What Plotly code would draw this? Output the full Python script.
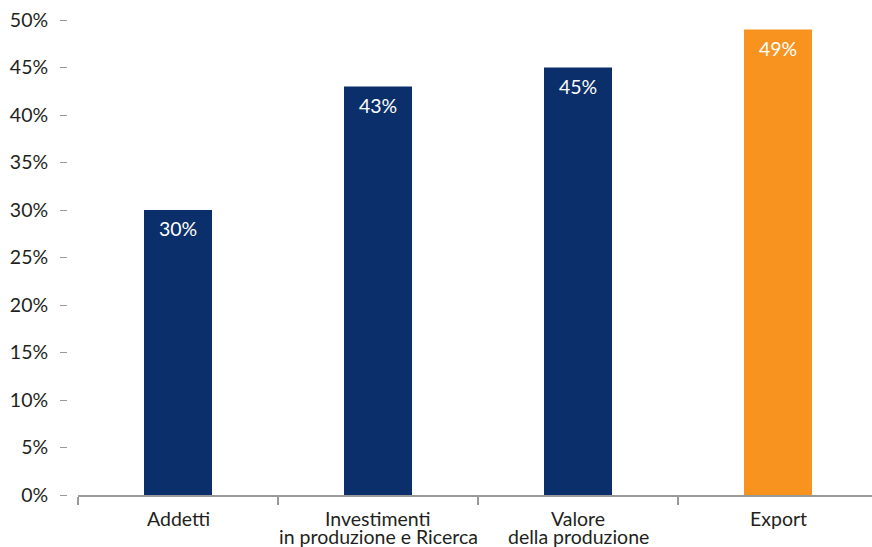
import plotly.graph_objects as go

categories = ["Addetti", "Investimenti in produzione e Ricerca", "Valore della produzione", "Export"]
category_lines = [["Addetti"], ["Investimenti", "in produzione e Ricerca"], ["Valore", "della produzione"], ["Export"]]
values = [30, 43, 45, 49]
bar_colors = ["#0b2f6b", "#0b2f6b", "#0b2f6b", "#f7931e"]
y_ticks = [0, 5, 10, 15, 20, 25, 30, 35, 40, 45, 50]
y_tick_labels = [f"{v}%" for v in y_ticks]

FONT = "Lato"
FS = 19.5
TEXT = "#231f20"

fig = go.Figure(
    go.Bar(
        x=categories,
        y=values,
        marker=dict(color=bar_colors, line=dict(width=0)),
        width=0.34,
        hoverinfo="skip",
    )
)

# value labels inside the top of each bar
for cat, v in zip(categories, values):
    fig.add_annotation(
        x=cat, y=v, text=f"{v}%", showarrow=False,
        yanchor="top", yshift=-5,
        font=dict(family=FONT, size=FS, color="white"),
    )

# category labels below the axis, one annotation per line for tight spacing
for cat, lines in zip(categories, category_lines):
    for i, line in enumerate(lines):
        fig.add_annotation(
            x=cat, xref="x", y=0, yref="paper", text=line, showarrow=False,
            yanchor="top", yshift=-10 - 18 * i,
            font=dict(family=FONT, size=FS, color=TEXT),
        )

W, H = 872, 547
ml, mr, mt, mb = 67, 0, 20, 52
fig.update_layout(
    width=W, height=H,
    margin=dict(l=ml, r=mr, t=mt, b=mb),
    paper_bgcolor="white", plot_bgcolor="white",
    showlegend=False,
    font=dict(family=FONT, size=FS, color=TEXT),
    xaxis=dict(
        domain=[(78 - ml) / (W - ml - mr), 1],
        range=[-0.5, 3.47],
        showgrid=False, zeroline=False,
        showline=True, linecolor="#9a9a9a", linewidth=2,
        ticks="outside", tickson="boundaries", ticklen=8, tickwidth=1.5, tickcolor="#9a9a9a",
        showticklabels=False,
    ),
    yaxis=dict(
        anchor="free", position=0,
        range=[0, 50],
        tickvals=y_ticks, ticktext=y_tick_labels,
        showgrid=False, zeroline=False, showline=False,
        ticks="outside", ticklen=7, tickwidth=1, tickcolor="#9a9a9a",
        ticklabelstandoff=8,
        tickfont=dict(family=FONT, size=FS, color=TEXT),
    ),
)

fig.write_html("out.html")
